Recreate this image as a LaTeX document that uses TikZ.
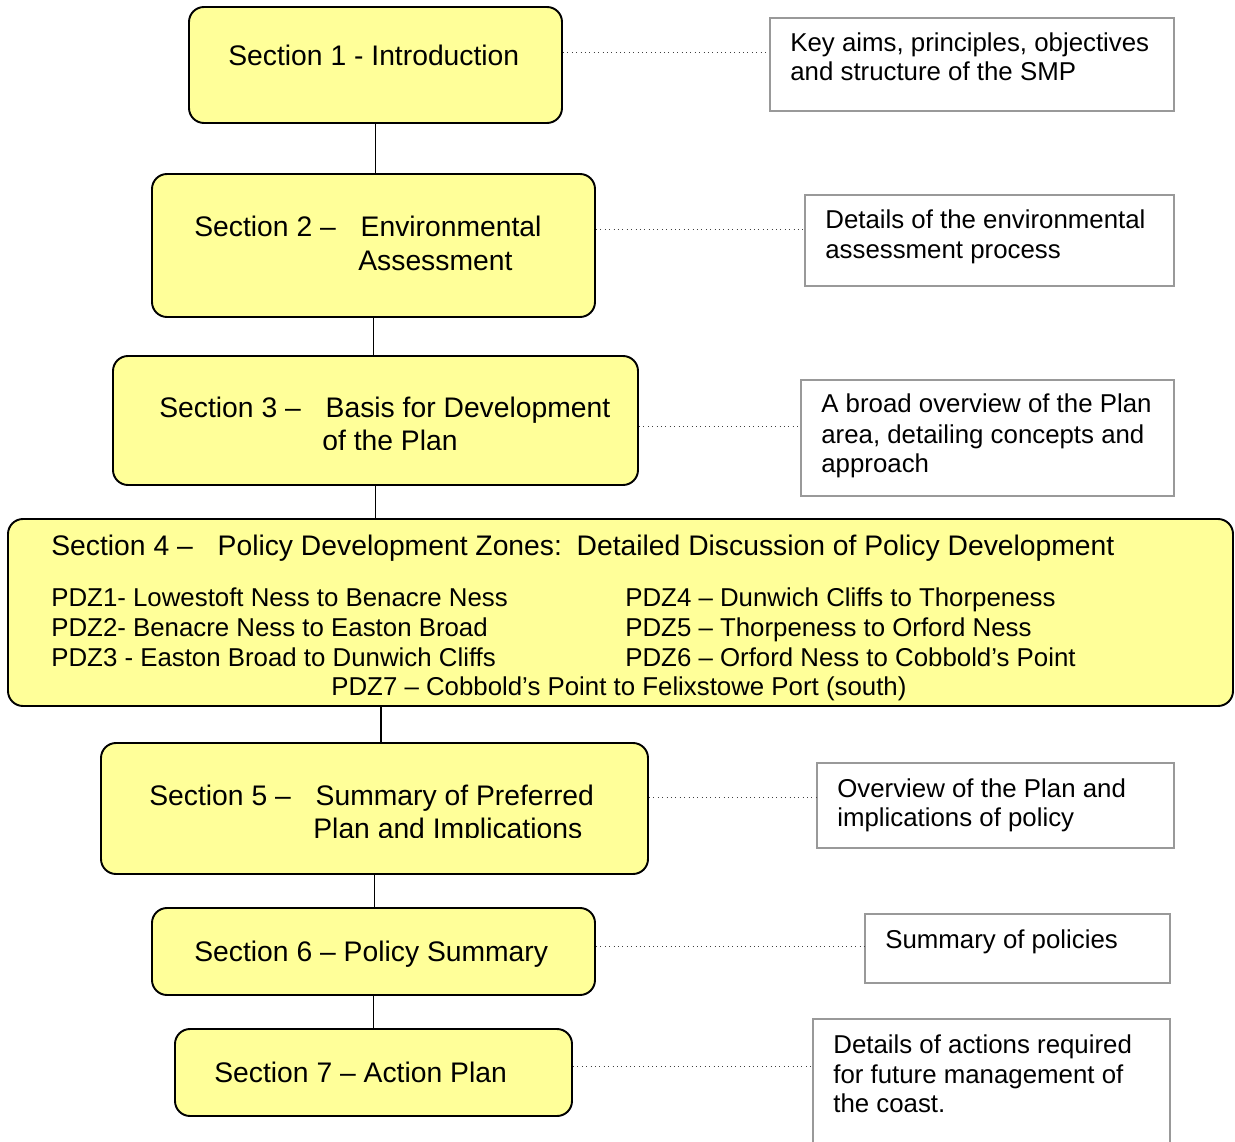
\documentclass[tikz,border=0pt]{standalone}
\usepackage{fontspec}
\setmainfont{Liberation Sans}
\usetikzlibrary{fit}

\newcommand{\secsize}{\fontsize{16.1}{19}\selectfont}
\newcommand{\notesize}{\fontsize{14.7}{17}\selectfont}
\definecolor{secyellow}{RGB}{255,255,153}
\definecolor{notegray}{RGB}{153,153,153}

\tikzset{
    secbox/.style={draw=black, fill=secyellow, line width=1.1pt, rounded corners=0.3cm, inner sep=0pt},
    notebox/.style={draw=notegray, line width=1pt, inner sep=0pt},
    sectext/.style={font=\secsize, inner sep=0pt, anchor=base west},
    notetext/.style={font=\notesize, inner sep=0pt, anchor=base west},
    trunk/.style={draw=black, line width=1pt},
    link/.style={draw=black!75, line width=0.5pt, dotted}
}

\begin{document}
\begin{tikzpicture}[x=0.02cm, y=-0.02cm]
    \useasboundingbox (0,0) rectangle (1235,1142);

    % section boxes
    \node[secbox, fit={(189,7) (562,123)}] (sec1) {};
    \node[secbox, fit={(152,174) (595,317)}] (sec2) {};
    \node[secbox, fit={(113,356) (638,485)}] (sec3) {};
    \node[secbox, fit={(8,519) (1233,706)}] (sec4) {};
    \node[secbox, fit={(101,743) (648,874)}] (sec5) {};
    \node[secbox, fit={(152,908) (595,995)}] (sec6) {};
    \node[secbox, fit={(175,1029) (572,1116)}] (sec7) {};

    % note boxes
    \node[notebox, fit={(770,18) (1174,111)}] (note1) {};
    \node[notebox, fit={(805,195) (1174,286)}] (note2) {};
    \node[notebox, fit={(801,380) (1174,496)}] (note3) {};
    \node[notebox, fit={(817,763) (1174,848)}] (note5) {};
    \node[notebox, fit={(865,914) (1170,983)}] (note6) {};
    \node[notebox, fit={(813,1019) (1170,1170)}] (note7) {};

    % section texts
    \node[sectext] (sec1a) at (228,66) {Section 1 - Introduction};
    \node[sectext] (sec2a) at (194,237) {Section 2 –\hspace{0.6em} Environmental};
    \node[sectext] (sec2b) at (358,271) {Assessment};
    \node[sectext] (sec3a) at (159,418) {Section 3 –\hspace{0.6em} Basis for Development};
    \begin{scope}
        \clip (113,420) rectangle (638,449);
        \node[sectext] (sec3b) at (322,451) {of the Plan};
    \end{scope}
    \node[sectext] (sec4a) at (51,555) {Section 4 –\hspace{0.6em} Policy Development Zones:\hspace{0.15em} Detailed Discussion of Policy Development};
    \node[notetext] (pdz1) at (51,606) {PDZ1- Lowestoft Ness to Benacre Ness};
    \node[notetext] (pdz2) at (51,636) {PDZ2- Benacre Ness to Easton Broad};
    \node[notetext] (pdz3) at (51,666) {PDZ3 - Easton Broad to Dunwich Cliffs};
    \node[notetext] (pdz4) at (625,606) {PDZ4 – Dunwich Cliffs to Thorpeness};
    \node[notetext] (pdz5) at (625,636) {PDZ5 – Thorpeness to Orford Ness};
    \node[notetext] (pdz6) at (625,666) {PDZ6 – Orford Ness to Cobbold’s Point};
    \node[notetext] (pdz7) at (331,695) {PDZ7 – Cobbold’s Point to Felixstowe Port (south)};
    \node[sectext] (sec5a) at (149,805) {Section 5 –\hspace{0.6em} Summary of Preferred};
    \begin{scope}
        \clip (101,810) rectangle (648,837);
        \node[sectext] (sec5b) at (313,838) {Plan and Implications};
    \end{scope}
    \node[sectext] (sec6a) at (194,961) {Section 6 – Policy Summary};
    \node[sectext] (sec7a) at (214,1082) {Section 7 – Action Plan};

    % note texts
    \node[notetext] (note1a) at (790,52) {Key aims, principles, objectives};
    \node[notetext] (note1b) at (790,81) {and structure of the SMP};
    \node[notetext] (note2a) at (825,229) {Details of the environmental};
    \node[notetext] (note2b) at (825,259) {assessment process};
    \node[notetext] (note3a) at (821,413) {A broad overview of the Plan};
    \node[notetext] (note3b) at (821,443) {area, detailing concepts and};
    \node[notetext] (note3c) at (821,473) {approach};
    \node[notetext] (note5a) at (837,797) {Overview of the Plan and};
    \node[notetext] (note5b) at (837,826) {implications of policy};
    \node[notetext] (note6a) at (885,948) {Summary of policies};
    \node[notetext] (note7a) at (833,1053) {Details of actions required};
    \node[notetext] (note7b) at (833,1083) {for future management of};
    \node[notetext] (note7c) at (833,1112) {the coast.};

    % vertical trunk
    \draw[trunk] (sec1.south) -- (sec1.south |- sec2.north);
    \draw[trunk] (sec2.south) -- (sec2.south |- sec3.north);
    \draw[trunk] (sec3.south) -- (sec3.south |- sec4.north);
    \draw[trunk] ([xshift=0.13cm]sec5.north |- sec4.south) -- ([xshift=0.13cm]sec5.north);
    \draw[trunk] (sec5.south) -- (sec5.south |- sec6.north);
    \draw[trunk] (sec6.south) -- (sec6.south |- sec7.north);

    % dotted links to notes
    \draw[link] (sec1.east |- 0,52) -- (note1.west |- 0,52);
    \draw[link] (sec2.east |- 0,229) -- (note2.west |- 0,229);
    \draw[link] (sec3.east |- 0,426) -- (note3.west |- 0,426);
    \draw[link] (sec5.east |- 0,797) -- (note5.west |- 0,797);
    \draw[link] (sec6.east |- 0,946) -- (note6.west |- 0,946);
    \draw[link] (sec7.east |- 0,1066) -- (note7.west |- 0,1066);
\end{tikzpicture}
\end{document}
